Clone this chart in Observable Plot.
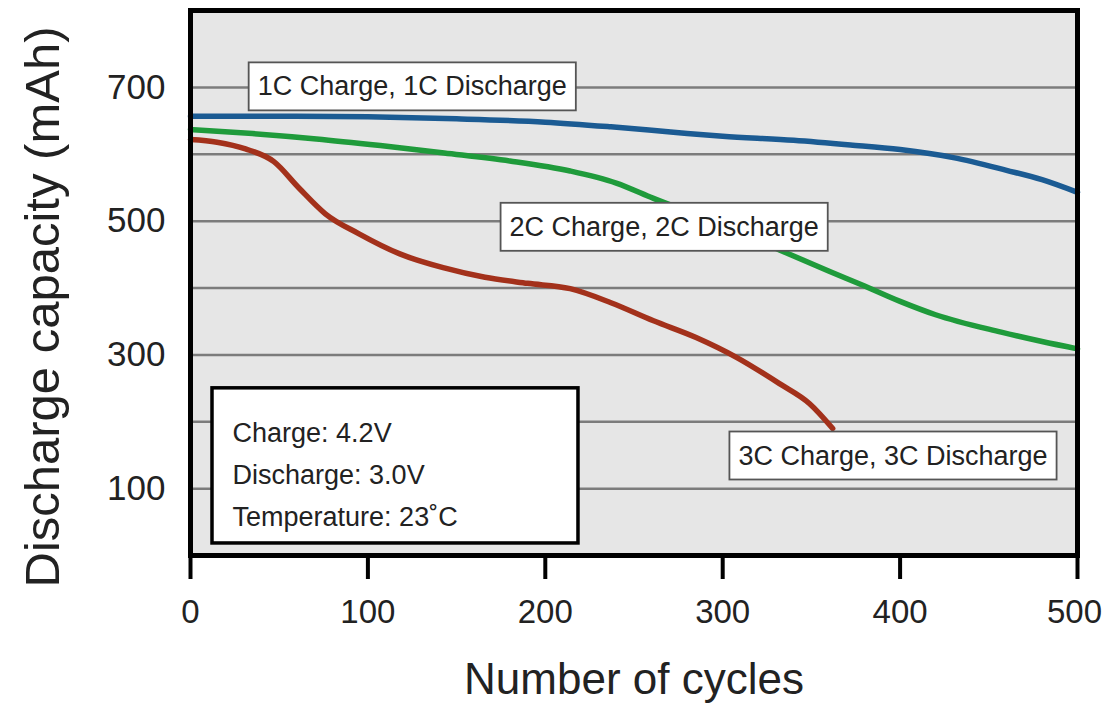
<!DOCTYPE html>
<html>
<head>
<meta charset="utf-8">
<script src="https://cdn.jsdelivr.net/npm/d3@7"></script>
<script src="https://cdn.jsdelivr.net/npm/@observablehq/plot@0.6"></script>
<style>
  html, body { margin: 0; padding: 0; background: #fff; }
  #chart svg { display: block; }
</style>
</head>
<body>
<div id="chart"></div>
<script>
// ---- Data ----
const cycles1C   = [0, 50, 100, 150, 200, 237, 260, 280, 300, 340, 372, 400, 430, 460, 480, 500];
const capacity1C = [657, 657, 656, 653, 648, 641, 636, 631, 627, 621, 614, 607, 595, 576, 562, 543];

const cycles2C   = [0, 35, 71, 107, 143, 180, 214, 240, 261, 300, 332, 360, 380, 400, 420, 457, 480, 500];
const capacity2C = [637, 631, 623, 613, 602, 590, 575, 557, 534, 494, 457, 425, 403, 380, 360, 334, 320, 309];

const cycles3C   = [0, 15, 31, 47, 61, 76, 95, 118, 143, 166, 190, 214, 237, 261, 285, 308, 332, 349, 362];
const capacity3C = [622, 618, 608, 589, 550, 511, 481, 451, 430, 416, 407, 399, 378, 351, 326, 296, 257, 227, 190];

const seriesNames = ["1C Charge, 1C Discharge", "2C Charge, 2C Discharge", "3C Charge, 3C Discharge"];
const seriesColors = ["#1b5b93", "#1f9b3b", "#a3311b"];

const xTicks = [0, 100, 200, 300, 400, 500];
const yTickLabels = [100, 300, 500, 700];
const yGrid = [100, 200, 300, 400, 500, 600, 700];

const xTitle = "Number of cycles";
const yTitle = "Discharge capacity (mAh)";
const infoLines = ["Charge: 4.2V", "Discharge: 3.0V", "Temperature: 23˚C"];

// annotation anchors (in data units)
const labelCycles = [125, 267, 396];
const labelCapacity = [701, 491, 149];
const infoBox = [{x1: 12.4, x2: 218.7, y1: 18, y2: 250}];
const infoAnchor = [{x: 23.7, y: 215}];

// ---- Build tables ----
const toRows = (cs, vs, name) => cs.map((c, i) => ({cycles: c, capacity: vs[i], series: name}));
const lines = [
  toRows(cycles1C, capacity1C, seriesNames[0]),
  toRows(cycles2C, capacity2C, seriesNames[1]),
  toRows(cycles3C, capacity3C, seriesNames[2])
];
const labels = seriesNames.map((s, i) => ({cycles: labelCycles[i], capacity: labelCapacity[i], text: s}));

const FONT = "'Liberation Sans', Arial, Helvetica, sans-serif";

const plot = Plot.plot({
  width: 1104,
  height: 707,
  marginLeft: 190,
  marginRight: 27,
  marginTop: 10,
  marginBottom: 152,
  style: {fontFamily: FONT, background: "#ffffff", color: "#222"},
  x: {domain: [0, 500]},
  y: {domain: [0, 815]},
  marks: [
    Plot.frame({fill: "#e6e6e6"}),
    Plot.ruleY(yGrid, {stroke: "#7c7c7c", strokeWidth: 2.5}),
    ...lines.map((rows, i) => Plot.line(rows, {
      x: "cycles", y: "capacity", stroke: seriesColors[i], strokeWidth: 5.5, curve: "monotone-x"
    })),
    Plot.text(labels, {
      x: "cycles", y: "capacity", text: "text", fontSize: 27, fill: "#222",
      className: "boxed-label"
    }),
    Plot.rect(infoBox, {x1: "x1", x2: "x2", y1: "y1", y2: "y2", fill: "white", stroke: "black", strokeWidth: 3.5}),
    Plot.text(infoAnchor, {
      x: "x", y: "y", text: () => infoLines.join("\n"), textAnchor: "start", lineAnchor: "top",
      fontSize: 27, lineHeight: 1.56, fill: "#222"
    }),
    Plot.frame({stroke: "black", strokeWidth: 5}),
    Plot.axisX({ticks: xTicks, tickSize: 24, tickPadding: 20, strokeWidth: 4, fontSize: 33, label: null, stroke: "black", color: "#222", textStroke: "none"}),
    Plot.axisY({ticks: yTickLabels, tickSize: 0, tickPadding: 25, fontSize: 35, label: null, color: "#222"}),
    Plot.text([xTitle], {frameAnchor: "bottom", textAnchor: "middle", lineAnchor: "middle", dy: 124, text: d => d, fontSize: 44, fill: "#222"}),
    Plot.text([yTitle], {frameAnchor: "left", textAnchor: "middle", lineAnchor: "middle", dx: -147, dy: 24, rotate: -90, text: d => d, fontSize: 49, fill: "#222"})
  ]
});

document.getElementById("chart").appendChild(plot);

// nudge the last x tick label so it stays inside the picture, as in the reference
const xLabels = plot.querySelectorAll("g[aria-label='x-axis tick label'] text");
if (xLabels.length) {
  const last = xLabels[xLabels.length - 1];
  last.setAttribute("x", -3);
}

// white boxes behind the series labels
plot.querySelectorAll("g.boxed-label text").forEach(t => {
  const b = t.getBBox();
  const padX = 9, padY = 9;
  const r = document.createElementNS("http://www.w3.org/2000/svg", "rect");
  r.setAttribute("x", b.x - padX);
  r.setAttribute("y", b.y - padY);
  r.setAttribute("width", b.width + 2 * padX);
  r.setAttribute("height", b.height + 2 * padY);
  r.setAttribute("fill", "white");
  r.setAttribute("stroke", "#555");
  r.setAttribute("stroke-width", "1.8");
  const tr = t.getAttribute("transform");
  if (tr) r.setAttribute("transform", tr);
  t.parentNode.insertBefore(r, t);
});
</script>
</body>
</html>
